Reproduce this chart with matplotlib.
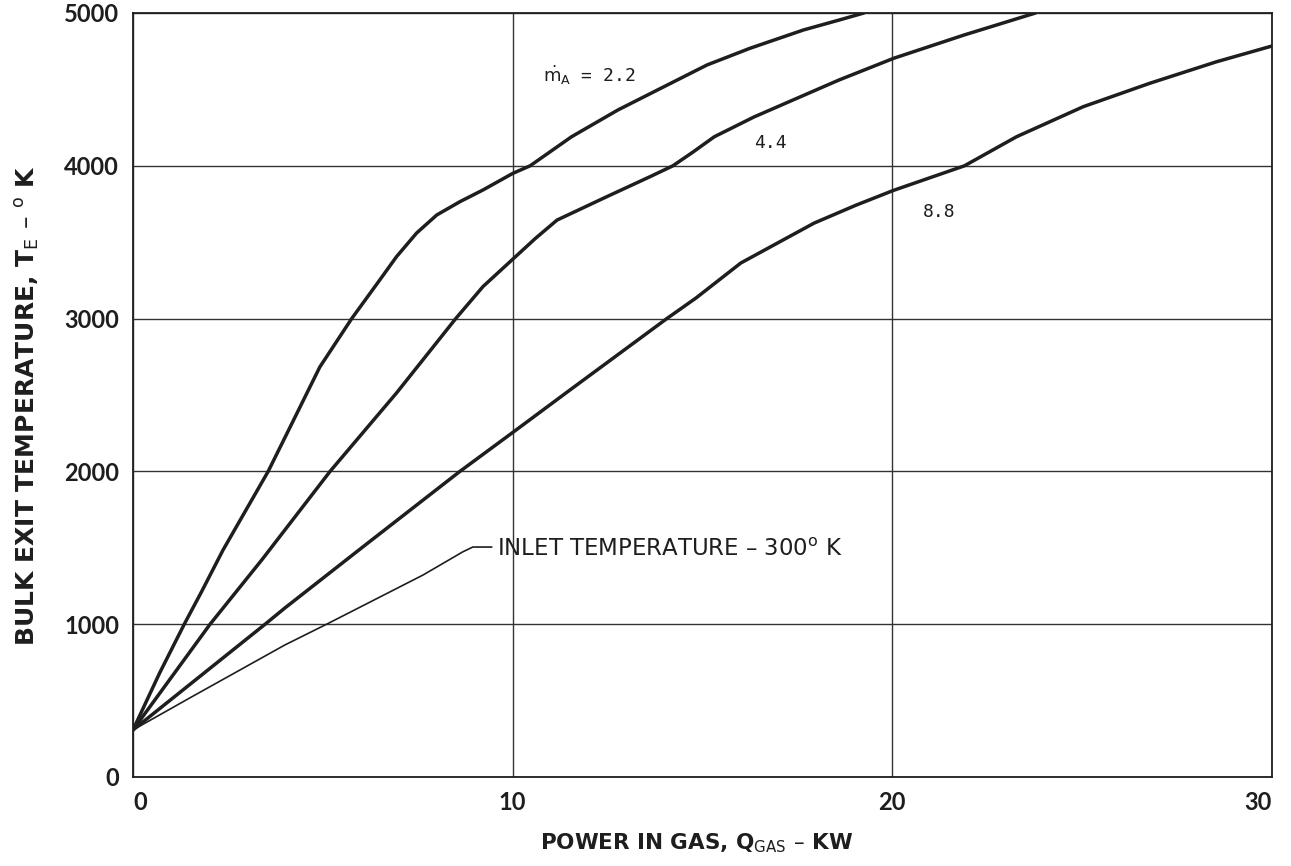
import matplotlib
matplotlib.use("Agg")
import matplotlib.pyplot as plt
from matplotlib import font_manager

# ---- data ----
q_22 = [0.0, 0.7, 1.35, 1.8, 2.37, 3.56, 4.21, 4.92, 5.76, 6.5, 6.94, 7.47, 8.0, 8.61, 9.22, 10.0, 10.46, 11.55, 12.77, 13.9, 15.12, 16.25, 17.66, 18.6, 19.25]
t_22 = [308, 680, 1000, 1210, 1485, 2000, 2326, 2683, 3000, 3253, 3405, 3560, 3678, 3765, 3842, 3950, 4000, 4190, 4365, 4507, 4660, 4769, 4889, 4954, 5000]

q_44 = [0.0, 2.03, 3.39, 5.19, 6.94, 8.5, 9.22, 10.03, 10.6, 11.17, 12.48, 13.62, 14.22, 14.75, 15.31, 16.36, 18.59, 20.04, 21.89, 23.77]
t_44 = [308, 1000, 1420, 2000, 2513, 3000, 3210, 3395, 3525, 3645, 3798, 3929, 4000, 4090, 4190, 4320, 4561, 4704, 4856, 5000]

q_88 = [0.0, 3.48, 4.0, 6.06, 8.61, 10.03, 11.51, 14.06, 14.83, 16.01, 17.94, 19.04, 20.04, 21.9, 23.27, 25.03, 26.78, 28.54, 30.0]
t_88 = [308, 1000, 1106, 1507, 2000, 2260, 2533, 3000, 3135, 3364, 3625, 3742, 3840, 4000, 4190, 4387, 4540, 4681, 4784]

q_inlet = [0.0, 1.55, 4.0, 5.1, 7.64, 8.69, 8.95, 9.45]
t_inlet = [308, 525, 864, 1000, 1322, 1474, 1505, 1505]

x_ticks = [0, 10, 20, 30]
y_ticks = [0, 1000, 2000, 3000, 4000, 5000]

curve_labels = [r"$\dot{\mathrm{m}}_{\mathrm{A}}$ = 2.2", "4.4", "8.8"]
curve_label_pos = [(10.8, 4548), (16.35, 4116), (20.8, 3665)]
inlet_label = "INLET TEMPERATURE \u2013 300$^{\\mathrm{o}}$ K"

# ---- fonts ----
avail = {f.name for f in font_manager.fontManager.ttflist}
def pick(cands):
    for c in cands:
        if c in avail:
            return c
    return "DejaVu Sans"
tick_font = pick(["Liberation Sans Narrow", "Lato", "Roboto", "DejaVu Sans"])
mono_font = pick(["DejaVu Sans Mono", "Liberation Mono"])
plt.rcParams["mathtext.fontset"] = "dejavusans"

fig = plt.figure(figsize=(12.91, 8.66), dpi=100)
ax = fig.add_axes([133 / 1291, 89 / 866, (1272 - 133) / 1291, (777 - 13) / 866])

ink = "#1e1e1e"
kw = dict(color=ink, lw=2.5, solid_joinstyle="round", solid_capstyle="round")
ax.plot(q_22, t_22, **kw)
ax.plot(q_44, t_44, **kw)
ax.plot(q_88, t_88, **kw)
ax.plot(q_inlet, t_inlet, color=ink, lw=1.2, solid_joinstyle="round", solid_capstyle="round")

ax.set_xlim(0, 30)
ax.set_ylim(0, 5000)
ax.set_xticks(x_ticks)
ax.set_yticks(y_ticks)
ax.set_xticklabels([str(v) for v in x_ticks])
ax.set_yticklabels([str(v) for v in y_ticks])
ax.tick_params(length=0, pad=10, labelsize=17, colors=ink)
for lab in ax.get_xticklabels() + ax.get_yticklabels():
    lab.set_fontfamily(tick_font)
    lab.set_fontweight("bold")
ax.get_xticklabels()[-1].set_ha("right")
ax.get_xticklabels()[0].set_ha("left")
ax.grid(True, color="#333333", lw=1.0)
ax.set_axisbelow(True)
for s in ax.spines.values():
    s.set_color(ink)
    s.set_linewidth(1.3)

for txt, (x, y) in zip(curve_labels, curve_label_pos):
    ax.text(x, y, txt, fontsize=13, family=mono_font, color=ink, ha="left", va="baseline")

ax.text(9.59, 1486, inlet_label, fontsize=16.5, family="DejaVu Sans", color=ink,
        ha="left", va="center")

fig.text(697 / 1291, 1 - 843 / 866, "POWER IN GAS, Q$_{\\mathrm{GAS}}$ \u2013 KW",
         ha="center", va="center", fontsize=15.5, fontweight="bold", family="DejaVu Sans", color=ink)
fig.text(28 / 1291, 1 - 405 / 866, "BULK EXIT TEMPERATURE, T$_{\\mathrm{E}}$ \u2013 $^{\\mathrm{o}}$ K",
         ha="center", va="center", rotation=90, fontsize=18, fontweight="bold",
         family="DejaVu Sans", color=ink)

fig.savefig("out.png", dpi=100)
